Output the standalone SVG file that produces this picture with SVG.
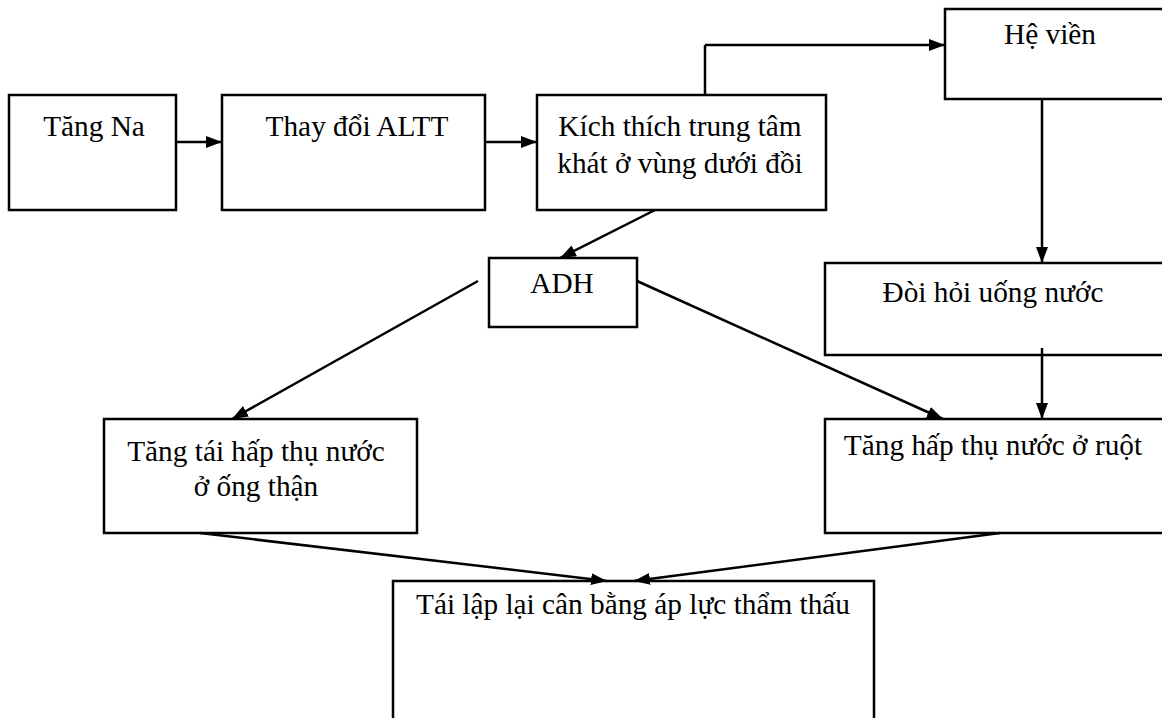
<svg xmlns="http://www.w3.org/2000/svg" width="1162" height="718" viewBox="0 0 1162 718">
<style>
.box{fill:#fff;stroke:#000;stroke-width:2.5}
.t{font-family:"Liberation Serif","Times New Roman",serif;font-size:29.3px;fill:#000;text-anchor:middle}
.c{fill:none;stroke:#000;stroke-width:2.5}
</style>
<defs>
<marker id="ah" viewBox="0 0 16 12" refX="16" refY="6" markerWidth="16" markerHeight="12" markerUnits="userSpaceOnUse" orient="auto">
<path d="M0,0 L16,6 L0,12 z" fill="#000"/>
</marker>
</defs>
<rect width="1162" height="718" fill="#fff"/>
<g id="n1"><rect class="box" x="9" y="95" width="167" height="115"/><text class="t" x="94" y="136">Tăng Na</text></g>
<g id="n2"><rect class="box" x="222" y="95" width="263" height="115"/><text class="t" x="357" y="136">Thay đổi ALTT</text></g>
<g id="n3"><rect class="box" x="537" y="95" width="289" height="115"/><text class="t" x="680" y="136">Kích thích trung tâm</text><text class="t" x="680" y="173">khát ở vùng dưới đồi</text></g>
<g id="n4"><rect class="box" x="945" y="9" width="225" height="90"/><text class="t" x="1050" y="44">Hệ viền</text></g>
<g id="n5"><rect class="box" x="825" y="263" width="345" height="92"/><text class="t" x="993" y="302">Đòi hỏi uống nước</text></g>
<g id="n6"><rect class="box" x="489" y="258" width="148" height="69"/><text class="t" x="562" y="293">ADH</text></g>
<g id="n7"><rect class="box" x="104" y="419" width="313" height="114"/><text class="t" x="256" y="461">Tăng tái hấp thụ nước</text><text class="t" x="256" y="496">ở ống thận</text></g>
<g id="n8"><rect class="box" x="825" y="419" width="345" height="114"/><text class="t" x="993" y="455">Tăng hấp thụ nước ở ruột</text></g>
<g id="n9"><rect class="box" x="393" y="581" width="481" height="160"/><text class="t" x="633" y="614">Tái lập lại cân bằng áp lực thẩm thấu</text></g>
<g id="connectors">
<line class="c" x1="176" y1="142" x2="222" y2="142" marker-end="url(#ah)"/>
<line class="c" x1="485" y1="142" x2="537" y2="142" marker-end="url(#ah)"/>
<polyline class="c" points="705,95 705,45"/>
<line class="c" x1="705" y1="45" x2="945" y2="45" marker-end="url(#ah)"/>
<line class="c" x1="1042" y1="99" x2="1042" y2="263" marker-end="url(#ah)"/>
<line class="c" x1="1042" y1="348" x2="1042" y2="419" marker-end="url(#ah)"/>
<line class="c" x1="655" y1="210" x2="560" y2="258" marker-end="url(#ah)"/>
<line class="c" x1="478" y1="281" x2="232" y2="419" marker-end="url(#ah)"/>
<line class="c" x1="637" y1="281" x2="943" y2="419" marker-end="url(#ah)"/>
<line class="c" x1="200" y1="533" x2="607" y2="581" marker-end="url(#ah)"/>
<line class="c" x1="1000" y1="533" x2="634" y2="581" marker-end="url(#ah)"/>
</g>
</svg>
